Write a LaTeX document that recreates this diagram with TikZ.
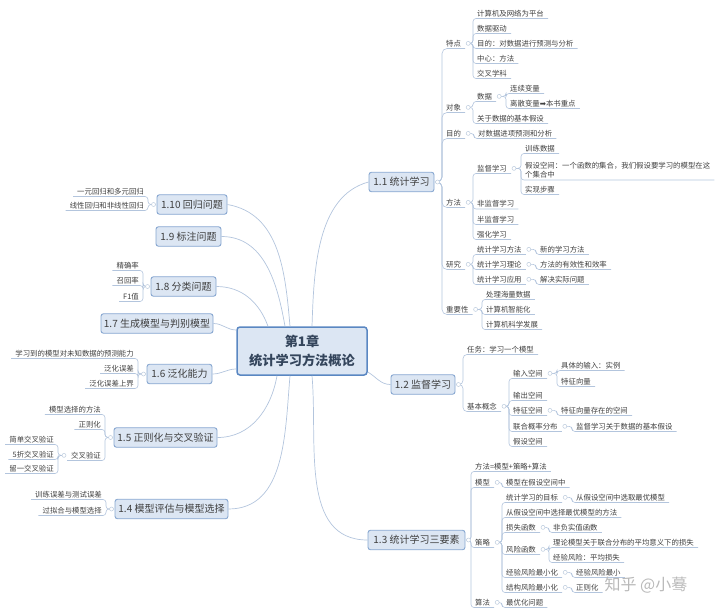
\documentclass[tikz,border=0pt]{standalone}
\usepackage{fontspec}
\setmainfont{Noto Sans CJK SC}
\newfontfamily\symfont{DejaVu Sans}
\definecolor{linkc}{HTML}{B3C5DD}
\definecolor{boxfill}{HTML}{DCE6F3}
\definecolor{boxline}{HTML}{86A6D0}
\definecolor{rootline}{HTML}{5A87C2}
\definecolor{roottxt}{HTML}{34455C}
\definecolor{txt}{HTML}{3F3F3F}
\definecolor{dotc}{HTML}{BCCBDD}
\begin{document}
\begin{tikzpicture}[x=1pt,y=1pt,
  link/.style={draw=linkc,line width=0.6pt,rounded corners=3pt},
  trunk/.style={draw=linkc,line width=0.7pt},
  leaf/.style={anchor=south west,inner xsep=4pt,inner ysep=1.5pt,text=txt,font=\fontsize{7.4}{9.2}\selectfont},
  leafl/.style={leaf,anchor=south east},
  topic/.style={draw=boxline,fill=boxfill,line width=0.9pt,rounded corners=2.5pt,inner xsep=2pt,minimum height=19.5pt,text=txt,font=\fontsize{10}{12}\selectfont},
  dot/.style={draw=dotc,fill=white,line width=0.5pt}]
\useasboundingbox (0,0) rectangle (720,-615);

% central topic
\node[draw=rootline,fill=boxfill,line width=1.5pt,rounded corners=3pt,minimum width=130pt,minimum height=48pt,align=center,text=roottxt,font=\bfseries\fontsize{13.2}{19}\selectfont] (root) at (302,-351) {第1章\\统计学习方法概论};

% main topics
\node[topic,minimum width=65pt] (t11) at (401.5,-182) {1.1 统计学习};
\node[topic,minimum width=64pt] (t12) at (423,-384.5) {1.2 监督学习};
\node[topic,minimum width=97pt] (t13) at (416.5,-540) {1.3 统计学习三要素};
\node[topic,minimum width=113pt] (t14) at (171.5,-509) {1.4 模型评估与模型选择};
\node[topic,minimum width=103pt] (t15) at (165.5,-437.5) {1.5 正则化与交叉验证};
\node[topic,minimum width=65pt] (t16) at (179.5,-374) {1.6 泛化能力};
\node[topic,minimum width=112pt] (t17) at (157,-323.5) {1.7 生成模型与判别模型};
\node[topic,minimum width=65pt] (t18) at (183.5,-286.5) {1.8 分类问题};
\node[topic,minimum width=65pt] (t19) at (188.5,-236.5) {1.9 标注问题};
\node[topic,minimum width=70pt] (t110) at (192,-204.5) {1.10 回归问题};

\draw[trunk] ([xshift=10pt]root.north) to[out=88,in=195,looseness=0.9] (t11.west);
\draw[trunk] ([yshift=-21pt]root.east) to[out=-30,in=180] (t12.west);
\draw[trunk] ([xshift=10pt]root.south) to[out=-85,in=180] (t13.west);
\draw[trunk] ([xshift=-12pt]root.south) to[out=-95,in=0] (t14.east);
\draw[trunk] ([xshift=-25pt]root.south) to[out=-100,in=0] (t15.east);
\draw[trunk] ([yshift=-18pt]root.west) to[out=180,in=0] (t16.east);
\draw[trunk] ([yshift=21pt]root.west) to[out=180,in=0] (t17.east);
\draw[trunk] ([xshift=-34pt]root.north) to[out=110,in=0] (t18.east);
\draw[trunk] ([xshift=-17pt]root.north) to[out=100,in=0] (t19.east);
\draw[trunk] ([xshift=-12pt]root.north) to[out=95,in=-10] (t110.east);

% 1.1 统计学习
\node[leaf] (feat) at (442,-48.5) {特点};
\node[leaf] (obj) at (442,-112.5) {对象};
\node[leaf] (goal) at (442,-138.5) {目的};
\node[leaf] (meth) at (442,-207.5) {方法};
\node[leaf] (res) at (442,-269.5) {研究};
\node[leaf] (imp) at (442,-314.5) {重要性};
\node[leaf] (f1) at (473,-18.5) {计算机及网络为平台};
\node[leaf] (f2) at (473,-33.5) {数据驱动};
\node[leaf] (f3) at (473,-48.5) {目的：对数据进行预测与分析};
\node[leaf] (f4) at (473,-63.5) {中心：方法};
\node[leaf] (f5) at (473,-78.5) {交叉学科};
\node[leaf] (data) at (473,-101.5) {数据};
\node[leaf] (asm) at (473,-123.5) {关于数据的基本假设};
\node[leaf] (cont) at (506,-93.5) {连续变量};
\node[leaf] (disc) at (506,-108.5) {离散变量{\symfont ➡}本书重点};
\node[leaf] (goal1) at (474,-138.5) {对数据进项预测和分析};
\node[leaf] (sup) at (473,-173.5) {监督学习};
\node[leaf] (unsup) at (473,-209) {非监督学习};
\node[leaf] (semi) at (473,-224.5) {半监督学习};
\node[leaf] (rl) at (473,-239.5) {强化学习};
\node[leaf] (train) at (521,-153.5) {训练数据};
\node[leaf,align=left] (hyp) at (521,-180) {假设空间：一个函数的集合，我们假设要学习的模型在这\\个集合中};
\node[leaf] (steps) at (521,-194.5) {实现步骤};
\node[leaf] (r1) at (473,-254.5) {统计学习方法};
\node[leaf] (r2) at (473,-269.5) {统计学习理论};
\node[leaf] (r3) at (473,-284.5) {统计学习应用};
\node[leaf] (r1a) at (536,-254.5) {新的学习方法};
\node[leaf] (r2a) at (536,-269.5) {方法的有效性和效率};
\node[leaf] (r3a) at (536,-284.5) {解决实际问题};
\node[leaf] (i1) at (482,-299.5) {处理海量数据};
\node[leaf] (i2) at (482,-314.5) {计算机智能化};
\node[leaf] (i3) at (482,-329.5) {计算机科学发展};

% 1.2 监督学习
\node[leaf] (task) at (463,-354.5) {任务：学习一个模型};
\node[leaf] (basic) at (463,-411.5) {基本概念};
\node[leaf] (inp) at (509,-378.5) {输入空间};
\node[leaf] (outp) at (509,-400.5) {输出空间};
\node[leaf] (feas) at (509,-415.5) {特征空间};
\node[leaf] (joint) at (509,-431.5) {联合概率分布};
\node[leaf] (hsp) at (509,-446.5) {假设空间};
\node[leaf] (inp1) at (557,-370.5) {具体的输入：实例};
\node[leaf] (inp2) at (557,-386.5) {特征向量};
\node[leaf] (feas1) at (557,-415.5) {特征向量存在的空间};
\node[leaf] (joint1) at (572,-431.5) {监督学习关于数据的基本假设};

% 1.3 统计学习三要素
\node[leaf] (three) at (471,-471.5) {方法=模型+策略+算法};
\node[leaf] (model) at (471,-487.5) {模型};
\node[leaf] (strat) at (471,-547.5) {策略};
\node[leaf] (algo) at (471,-607.5) {算法};
\node[leaf] (model1) at (502,-487.5) {模型在假设空间中};
\node[leaf] (s1) at (502,-502.5) {统计学习的目标};
\node[leaf] (s2) at (502,-517.5) {从假设空间中选择最优模型的方法};
\node[leaf] (s3) at (502,-532.5) {损失函数};
\node[leaf] (s4) at (502,-554.5) {风险函数};
\node[leaf] (s5) at (502,-577.5) {经验风险最小化};
\node[leaf] (s6) at (502,-592.5) {结构风险最小化};
\node[leaf] (s1a) at (572,-502.5) {从假设空间中选取最优模型};
\node[leaf] (s3a) at (549,-532.5) {非负实值函数};
\node[leaf] (s4a) at (549,-547.5) {理论模型关于联合分布的平均意义下的损失};
\node[leaf] (s4b) at (549,-562.5) {经验风险：平均损失};
\node[leaf] (s5a) at (572,-577.5) {经验风险最小};
\node[leaf] (s6a) at (572,-592.5) {正则化};
\node[leaf] (algo1) at (502,-607.5) {最优化问题};

% left side
\node[leafl] (g1) at (148,-196.5) {一元回归和多元回归};
\node[leafl] (g2) at (148,-210.5) {线性回归和非线性回归};
\node[leafl] (c1) at (143,-270.5) {精确率};
\node[leafl] (c2) at (143,-285.5) {召回率};
\node[leafl] (c3) at (143,-301.5) {F1值};
\node[leafl] (e1) at (138,-358.5) {学习到的模型对未知数据的预测能力};
\node[leafl] (e2) at (138,-373.5) {泛化误差};
\node[leafl] (e3) at (138,-388.5) {泛化误差上界};
\node[leafl] (v1) at (105,-414.5) {模型选择的方法};
\node[leafl] (v2) at (105,-429.5) {正则化};
\node[leafl] (v3) at (105,-460.5) {交叉验证};
\node[leafl] (v3a) at (58,-444.5) {简单交叉验证};
\node[leafl] (v3b) at (58,-459.5) {5折交叉验证};
\node[leafl] (v3c) at (58,-473.5) {留一交叉验证};
\node[leafl] (m1) at (106,-499.5) {训练误差与测试误差};
\node[leafl] (m2) at (106,-515.5) {过拟合与模型选择};

% circles where branches start
\foreach \p in {t11,t12,t13,feat,obj,data,goal,meth,sup,res,r1,r2,r3,imp,basic,inp,feas,joint,model,strat,s1,s3,s4,s5,s6,algo}
  \coordinate (\p-c) at ([xshift=3pt]\p.east);
\foreach \p in {t110,t18,t16,t15,v3,t14}
  \coordinate (\p-c) at ([xshift=-3pt]\p.west);

% branches
\foreach \c in {feat,obj,goal,meth,res,imp} \draw[link,rounded corners=5pt] (t11-c) -| (\c.south west) -- (\c.south east);
\foreach \c in {f1,f2,f3,f4,f5} \draw[link] (feat-c) -| (\c.south west) -- (\c.south east);
\foreach \c in {data,asm} \draw[link] (obj-c) -| (\c.south west) -- (\c.south east);
\foreach \c in {cont,disc} \draw[link] (data-c) -| (\c.south west) -- (\c.south east);
\draw[link] (goal-c) -| (goal1.south west) -- (goal1.south east);
\foreach \c in {sup,unsup,semi,rl} \draw[link] (meth-c) -| (\c.south west) -- (\c.south east);
\foreach \c in {train,hyp,steps} \draw[link] (sup-c) -| (\c.south west) -- (\c.south east);
\foreach \c in {r1,r2,r3} \draw[link] (res-c) -| (\c.south west) -- (\c.south east);
\foreach \p in {r1,r2,r3} \draw[link] (\p-c) -| (\p a.south west) -- (\p a.south east);
\foreach \c in {i1,i2,i3} \draw[link] (imp-c) -| (\c.south west) -- (\c.south east);
\foreach \c in {task,basic} \draw[link,rounded corners=4pt] (t12-c) -| (\c.south west) -- (\c.south east);
\foreach \c in {inp,outp,feas,joint,hsp} \draw[link] (basic-c) -| (\c.south west) -- (\c.south east);
\foreach \c in {inp1,inp2} \draw[link] (inp-c) -| (\c.south west) -- (\c.south east);
\draw[link] (feas-c) -| (feas1.south west) -- (feas1.south east);
\draw[link] (joint-c) -| (joint1.south west) -- (joint1.south east);
\foreach \c in {three,model,strat,algo} \draw[link] (t13-c) -| (\c.south west) -- (\c.south east);
\draw[link] (model-c) -| (model1.south west) -- (model1.south east);
\foreach \c in {s1,s2,s3,s4,s5,s6} \draw[link] (strat-c) -| (\c.south west) -- (\c.south east);
\draw[link] (s1-c) -| (s1a.south west) -- (s1a.south east);
\draw[link] (s3-c) -| (s3a.south west) -- (s3a.south east);
\foreach \c in {s4a,s4b} \draw[link] (s4-c) -| (\c.south west) -- (\c.south east);
\draw[link] (s5-c) -| (s5a.south west) -- (s5a.south east);
\draw[link] (s6-c) -| (s6a.south west) -- (s6a.south east);
\draw[link] (algo-c) -| (algo1.south west) -- (algo1.south east);
\foreach \c in {g1,g2} \draw[link] (t110-c) -| (\c.south east) -- (\c.south west);
\foreach \c in {c1,c2,c3} \draw[link] (t18-c) -| (\c.south east) -- (\c.south west);
\foreach \c in {e1,e2,e3} \draw[link] (t16-c) -| (\c.south east) -- (\c.south west);
\foreach \c in {v1,v2,v3} \draw[link] (t15-c) -| (\c.south east) -- (\c.south west);
\foreach \c in {v3a,v3b,v3c} \draw[link] (v3-c) -| (\c.south east) -- (\c.south west);
\foreach \c in {m1,m2} \draw[link] (t14-c) -| (\c.south east) -- (\c.south west);

\foreach \p in {t11,t12,t13,feat,obj,data,goal,meth,sup,res,r1,r2,r3,imp,basic,inp,feas,joint,model,strat,s1,s3,s4,s5,s6,algo,t110,t18,t16,t15,v3,t14}
  \draw[dot] (\p-c) circle (2pt);

% watermark
\node[text=gray!55,font=\fontsize{16}{18}\selectfont] (zhihu) at (646,-585) {知乎 @小蓦};
\end{tikzpicture}
\end{document}
